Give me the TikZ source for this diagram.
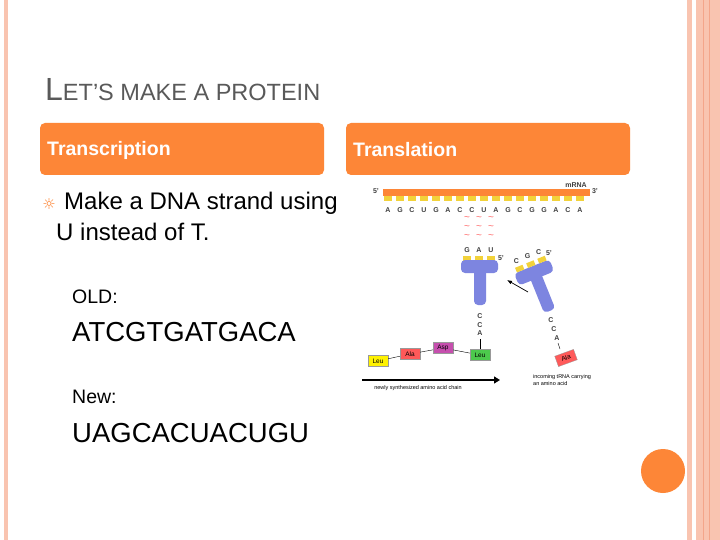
\documentclass[tikz,border=0pt]{standalone}
\usepackage{fontspec}
\setmainfont{Liberation Sans}
\newfontfamily\djv{DejaVu Sans}
\usetikzlibrary{arrows.meta}
\definecolor{org}{HTML}{FD8637}
\definecolor{pk}{HTML}{F9C4B0}
\definecolor{pk2}{HTML}{F4A58A}
\definecolor{tr}{HTML}{7D85E0}
\definecolor{ye}{HTML}{F2D23A}
\tikzset{hdr/.style={fill=org,rounded corners=5pt,draw=none},
 nt/.style={font=\fontsize{7}{8}\selectfont\bfseries,text=black!75,inner sep=0},
 tab/.style={fill=ye,draw=none},
 aa/.style={draw=black!40,line width=.3pt,minimum width=20pt,minimum height=11pt,inner sep=0,font=\fontsize{6.5}{7}\selectfont}}
\begin{document}
\begin{tikzpicture}[x=1pt,y=-1pt]
\useasboundingbox (0,0) rectangle (720,540);
\fill[white] (0,0) rectangle (720,540);
% borders
\fill[pk] (4,0) rectangle (8,540);
\fill[pk] (687,0) rectangle (692,540);
\fill[pk] (696,0) rectangle (720,540);
\draw[pk2,line width=1pt] (703,0) -- (703,540);
\draw[pk2,line width=.8pt] (709,0) -- (709,540);
\node[anchor=base west,inner sep=0,text=black!65] (title) at (45,101) {\fontsize{32}{34}\selectfont L\fontsize{23.5}{25}\selectfont ET'S MAKE A PROTEIN};
% headers
\fill[hdr] (40,123) rectangle (324,175);
\fill[hdr] (346,123) rectangle (630,175);
\node[anchor=west,inner sep=0,text=white,font=\fontsize{19.5}{21}\selectfont\bfseries] (h1) at (47,150) {Transcription};
\node[anchor=west,inner sep=0,text=white,font=\fontsize{19.5}{21}\selectfont\bfseries] (h2) at (353,150) {Translation};
\node[text=org,font=\djv\fontsize{15}{15}\selectfont,inner sep=0] (b) at (49,204) {☼};
\node[anchor=north west,align=left,inner sep=0,font=\fontsize{24}{31}\selectfont] (t1) at (64,192) {Make a DNA strand using\\\hspace*{-8pt}U instead of T.};
\node[anchor=west,inner sep=0,font=\fontsize{19.5}{21}\selectfont] (old) at (72,297) {OLD:};
\node[anchor=west,inner sep=0,font=\fontsize{27.5}{29}\selectfont] (s1) at (72,332) {ATCGTGATGACA};
\node[anchor=west,inner sep=0,font=\fontsize{19.5}{21}\selectfont] (new) at (72,397) {New:};
\node[anchor=west,inner sep=0,font=\fontsize{27.5}{29}\selectfont] (s2) at (72,433) {UAGCACUACUGU};
% circle
\fill[org] (663,471) circle (22);
% mRNA
\foreach \l [count=\i] in {A,G,C,U,G,A,C,C,U,A,G,C,G,G,A,C,A}{
  \fill[tab] ({376+12*\i-4},195) rectangle ({376+12*\i+4},201);
  \node[nt] (m\i) at ({376+12*\i},210) {\l};}
\fill[org] (383,189) rectangle (590,196);
\node[nt] (m5p) at (376,191) {5'};
\node[nt] (m3p) at (595,191) {3'};
\node[nt] (mr) at (576,185) {mRNA};
\foreach \x in {467,479,491}{\foreach \y in {219,228,237}{\node[text=red!60,font=\fontsize{10}{10}\selectfont,inner sep=0] at (\x,\y) {\textasciitilde};}}
% left tRNA
\foreach \l/\x in {G/467,A/479,U/491}{\fill[tab] (\x-4,256) rectangle (\x+4,262); \node[nt] at (\x,250) {\l};}
\node[nt] at (501,258) {5'};
\fill[tr,rounded corners=4pt] (461,260) rectangle (498,273);
\fill[tr,rounded corners=4pt] (474,265) rectangle (486,305);
\foreach \l/\y in {C/316,C/325,A/333}{\node[nt] at (480,\y) {\l};}
\node[aa,fill=green!70!black!70,minimum width=20pt] (leu2) at (480,355) {Leu};
\draw (480,339) -- (leu2.north);
\node[aa,fill=magenta!70!blue!70] (asp) at (443,348) {Asp};
\node[aa,fill=red!65] (ala) at (410,354) {Ala};
\node[aa,fill=yellow] (leu1) at (378,361) {Leu};
\draw (leu1) -- (ala) -- (asp) -- (leu2);
% incoming tRNA
\begin{scope}[shift={(534,272)},rotate=22]
\fill[tr,rounded corners=4pt] (-19,-6) rectangle (19,7);
\fill[tr,rounded corners=4pt] (-6,0) rectangle (6,42);
\foreach \l/\x in {C/-12,G/0,C/12}{\fill[tab] (\x-4,-11) rectangle (\x+4,-6); \node[nt] at (\x,-17) {\l};}
\node[nt] at (21,-12) {5'};
\end{scope}
\foreach \l/\x/\y in {C/551/320,C/554/329,A/557/338}{\node[nt] at (\x,\y) {\l};}
\draw (558,343) -- (560,349);
\node[aa,fill=red!65,rotate=20] (ala2) at (566,358) {Ala};
\draw[-{Latex[length=5pt]},line width=.7pt] (528,292) -- (507,280);
\draw[-{Triangle[length=6pt,width=7pt]},line width=1.3pt] (362,380) -- (500,380);
\node[font=\fontsize{5.5}{6}\selectfont,inner sep=0] (lbl) at (418,388) {newly synthesized amino acid chain};
\node[anchor=west,align=left,font=\fontsize{5.5}{6.5}\selectfont,inner sep=0] (lbl2) at (533,380) {incoming tRNA carrying\\an amino acid};
\end{tikzpicture}
\end{document}
